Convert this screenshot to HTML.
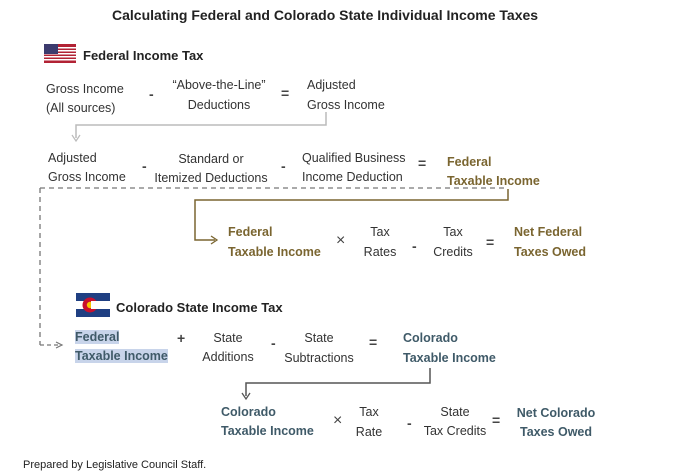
<!DOCTYPE html>
<html><head><meta charset="utf-8"><style>
body{margin:0;width:676px;height:476px;background:#fff;position:relative;overflow:hidden;font-family:"Liberation Sans",sans-serif;color:#333;}
.t{position:absolute;font-size:12.5px;line-height:15px;white-space:nowrap;margin-top:3px}
.c{transform:translateX(-50%);text-align:center}
.b{font-weight:bold}
.o{color:#7a6530;font-weight:bold}
.s{color:#3f5a68;font-weight:bold}
.op{position:absolute;font-size:14px;font-weight:bold;color:#444;margin-top:3px}
.x{font-size:16px;font-weight:normal;margin-top:1px}
.hl{background:#c8d4ea}
</style></head><body>
<div class="t b" style="left:112px;top:5px;font-size:14px;color:#222">Calculating Federal and Colorado State Individual Income Taxes</div>

<svg style="position:absolute;left:0;top:0" width="676" height="476">
<g>
<rect x="44" y="44" width="32" height="19" fill="#b22234"/>
<rect x="44" y="47" width="32" height="1.5" fill="#fff"/><rect x="44" y="50" width="32" height="1.5" fill="#fff"/><rect x="44" y="53" width="32" height="1.5" fill="#fff"/><rect x="44" y="56" width="32" height="1.5" fill="#fff"/><rect x="44" y="59" width="32" height="1.5" fill="#fff"/>
<rect x="44" y="44" width="14" height="10" fill="#3c3b6e"/>
</g>
<g>
<rect x="76" y="293" width="34" height="24" fill="#1f3f82"/>
<rect x="76" y="301" width="34" height="8" fill="#fff"/>
<circle cx="90" cy="305" r="7.5" fill="#c8102e"/>
<circle cx="90" cy="305" r="3.2" fill="#f7c500"/>
<rect x="91" y="301" width="7" height="8" fill="#fff"/>
</g>
<polyline points="326,112 326,125 76,125 76,138" fill="none" stroke="#bbb" stroke-width="1.5"/>
<path d="M72,135 L76,141 L80,135" fill="none" stroke="#bbb" stroke-width="1.2"/>
<line x1="40" y1="188" x2="508" y2="188" stroke="#777" stroke-width="1.3" stroke-dasharray="5,4"/>
<line x1="40" y1="188" x2="40" y2="345" stroke="#777" stroke-width="1.3" stroke-dasharray="5,4"/>
<line x1="40" y1="345" x2="60" y2="345" stroke="#777" stroke-width="1.3" stroke-dasharray="4,3"/>
<path d="M56,342 L62,345 L56,348" fill="none" stroke="#777" stroke-width="1.2"/>
<polyline points="508,189 508,200 195,200 195,240 215,240" fill="none" stroke="#7a6530" stroke-width="1.5"/>
<path d="M211,236 L217,240 L211,244" fill="none" stroke="#7a6530" stroke-width="1.3"/>
<polyline points="430,368 430,383 246,383 246,396" fill="none" stroke="#555" stroke-width="1.5"/>
<path d="M242,393 L246,399 L250,393" fill="none" stroke="#555" stroke-width="1.3"/>
</svg>

<div class="t b" style="left:83px;top:45px;font-size:13px;color:#222">Federal Income Tax</div>
<div class="t" style="left:46px;top:79px">Gross Income</div>
<div class="t" style="left:46px;top:98px">(All sources)</div>
<div class="op" style="left:149px;top:83px">-</div>
<div class="t c" style="left:219px;top:75px">“Above-the-Line”</div>
<div class="t c" style="left:219px;top:95px">Deductions</div>
<div class="op" style="left:281px;top:82px">=</div>
<div class="t" style="left:307px;top:75px">Adjusted</div>
<div class="t" style="left:307px;top:95px">Gross Income</div>

<div class="t" style="left:48px;top:148px">Adjusted</div>
<div class="t" style="left:48px;top:167px">Gross Income</div>
<div class="op" style="left:142px;top:155px">-</div>
<div class="t c" style="left:211px;top:149px">Standard or</div>
<div class="t c" style="left:211px;top:168px">Itemized Deductions</div>
<div class="op" style="left:281px;top:155px">-</div>
<div class="t" style="left:302px;top:148px">Qualified Business</div>
<div class="t" style="left:302px;top:167px">Income Deduction</div>
<div class="op" style="left:418px;top:152px">=</div>
<div class="t o" style="left:447px;top:152px">Federal</div>
<div class="t o" style="left:447px;top:171px">Taxable Income</div>

<div class="t o" style="left:228px;top:222px">Federal</div>
<div class="t o" style="left:228px;top:242px">Taxable Income</div>
<div class="op x" style="left:336px;top:231px">×</div>
<div class="t c" style="left:380px;top:222px">Tax</div>
<div class="t c" style="left:380px;top:242px">Rates</div>
<div class="op" style="left:412px;top:235px">-</div>
<div class="t c" style="left:453px;top:222px">Tax</div>
<div class="t c" style="left:453px;top:242px">Credits</div>
<div class="op" style="left:486px;top:231px">=</div>
<div class="t o" style="left:514px;top:222px">Net Federal</div>
<div class="t o" style="left:514px;top:242px">Taxes Owed</div>

<div class="t b" style="left:116px;top:297px;font-size:13px;color:#222">Colorado State Income Tax</div>
<div class="t s" style="left:75px;top:327px"><span class="hl">Federal</span></div>
<div class="t s" style="left:75px;top:346px"><span class="hl">Taxable Income</span></div>
<div class="op" style="left:177px;top:327px">+</div>
<div class="t c" style="left:228px;top:328px">State</div>
<div class="t c" style="left:228px;top:347px">Additions</div>
<div class="op" style="left:271px;top:332px">-</div>
<div class="t c" style="left:319px;top:328px">State</div>
<div class="t c" style="left:319px;top:348px">Subtractions</div>
<div class="op" style="left:369px;top:331px">=</div>
<div class="t s" style="left:403px;top:328px">Colorado</div>
<div class="t s" style="left:403px;top:348px">Taxable Income</div>

<div class="t s" style="left:221px;top:402px">Colorado</div>
<div class="t s" style="left:221px;top:421px">Taxable Income</div>
<div class="op x" style="left:333px;top:411px">×</div>
<div class="t c" style="left:369px;top:402px">Tax</div>
<div class="t c" style="left:369px;top:422px">Rate</div>
<div class="op" style="left:407px;top:412px">-</div>
<div class="t c" style="left:455px;top:402px">State</div>
<div class="t c" style="left:455px;top:421px">Tax Credits</div>
<div class="op" style="left:492px;top:409px">=</div>
<div class="t s c" style="left:556px;top:403px">Net Colorado</div>
<div class="t s c" style="left:556px;top:422px">Taxes Owed</div>

<div class="t" style="left:23px;top:455px;font-size:11px;color:#222">Prepared by Legislative Council Staff.</div>
</body></html>
